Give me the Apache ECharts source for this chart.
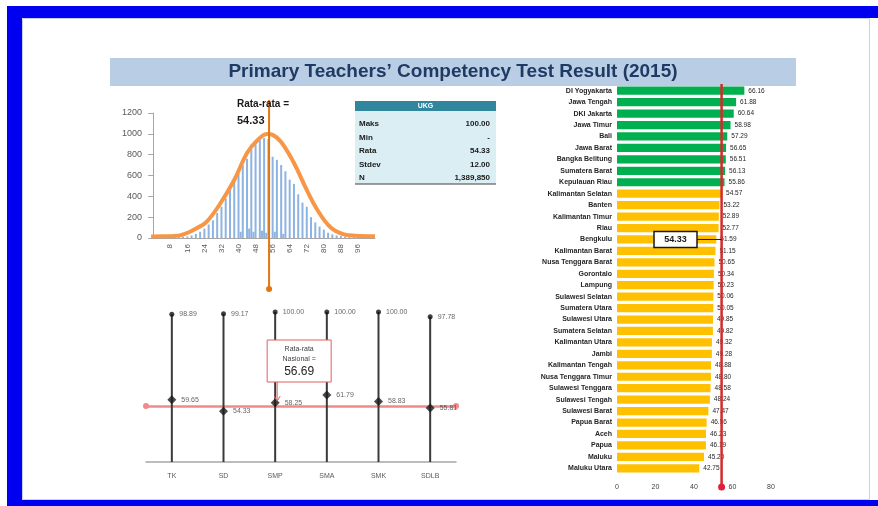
<!DOCTYPE html>
<html>
<head>
<meta charset="utf-8">
<script src="https://cdn.jsdelivr.net/npm/echarts@6/dist/echarts.min.js"></script>
<style>
  html, body { margin: 0; padding: 0; background: #fff; }
  #chart { width: 878px; height: 506px; }
</style>
</head>
<body>
<div id="chart"></div>
<script>
// histogram of UKG scores (1-point bins) and the fitted curve
const scoreBins = [0,2,4,6,8,10,12,14,16,18,20,22,24,26,28,30,32,34,36,38,40,41,42,44,45,46,47,48,50,51,52,53,54,56,57,58,60,61,62,64,66,68,70,72,74,76,78,80,82,84,86,88,90,92,94,96,98,100];
const scoreCounts = [10,10,10,12,12,12,14,14,15,25,40,60,90,130,170,240,300,380,460,540,620,60,700,760,90,850,60,900,940,70,960,50,950,780,60,750,700,40,640,560,520,420,340,300,200,150,110,80,50,35,25,20,15,12,10,10,10,10];
const curveX = [-1,5,10,13,17,21,25,31,38,44,49,53.5,56,60,66,72,77,83,89,95,104];
const curveY = [15,16,20,28,58,100,154,317,557,816,941,998,990,922,720,461,269,106,38,22,18];
const histTicks = [8,16,24,32,40,48,56,64,72,80,88,96];
const meanScore = 54.33;

// summary table
const tableRows = ['Maks', 'Min', 'Rata', 'Stdev', 'N'];
const tableVals = ['100.00', '-', '54.33', '12.00', '1,389,850'];

// by school level
const levels = ['TK', 'SD', 'SMP', 'SMA', 'SMK', 'SDLB'];
const levelMax = [98.89, 99.17, 100.00, 100.00, 100.00, 97.78];
const levelAvg = [59.65, 54.33, 58.25, 61.79, 58.83, 55.81];
const nationalAvg = 56.69;

// by province
const provinces = ['DI Yogyakarta','Jawa Tengah','DKI Jakarta','Jawa Timur','Bali','Jawa Barat','Bangka Belitung','Sumatera Barat','Kepulauan Riau','Kalimantan Selatan','Banten','Kalimantan Timur','Riau','Bengkulu','Kalimantan Barat','Nusa Tenggara Barat','Gorontalo','Lampung','Sulawesi Selatan','Sumatera Utara','Sulawesi Utara','Sumatera Selatan','Kalimantan Utara','Jambi','Kalimantan Tengah','Nusa Tenggara Timur','Sulawesi Tenggara','Sulawesi Tengah','Sulawesi Barat','Papua Barat','Aceh','Papua','Maluku','Maluku Utara'];
const provScores = [66.16,61.88,60.64,58.98,57.29,56.65,56.51,56.13,55.86,54.57,53.22,52.89,52.77,51.59,51.15,50.65,50.34,50.23,50.06,50.05,49.85,49.82,49.32,49.28,48.88,48.80,48.58,48.24,47.47,46.56,46.23,46.19,45.20,42.75];
const greenCount = 9;
const sdAvg = 54.33;

const FONT = '"Liberation Sans", Arial, sans-serif';
const chart = echarts.init(document.getElementById('chart'));

const option = {
  animation: false,
  backgroundColor: '#fff',
  textStyle: { fontFamily: FONT },
  grid: [
    { left: 150, top: 113, width: 225, height: 125 },
    { left: 146, top: 301, width: 310, height: 161 },
    { left: 617, top: 85, width: 154, height: 389 }
  ],
  xAxis: [
    {
      type: 'value', gridIndex: 0, min: -1.5, max: 104,
      axisLine: { lineStyle: { color: '#a6a6a6' } },
      axisTick: { show: false },
      splitLine: { show: false },
      axisLabel: { customValues: histTicks, rotate: 90, fontSize: 8, color: '#595959', margin: 6 }
    },
    {
      type: 'category', gridIndex: 1, data: levels,
      axisLine: { lineStyle: { color: '#a6a6a6', width: 1.5 } },
      axisTick: { lineStyle: { color: '#a6a6a6' } },
      axisLabel: { fontSize: 7, color: '#595959', margin: 11 }
    },
    {
      type: 'value', gridIndex: 2, min: 0, max: 80, interval: 20,
      axisLine: { show: false }, axisTick: { show: false }, splitLine: { show: false },
      axisLabel: { fontSize: 7, color: '#404040', margin: 10 }
    }
  ],
  yAxis: [
    {
      type: 'value', gridIndex: 0, min: 0, max: 1200, interval: 200,
      axisLine: { show: true, lineStyle: { color: '#a6a6a6' } },
      axisTick: { show: true, lineStyle: { color: '#a6a6a6' } },
      splitLine: { show: false },
      axisLabel: { fontSize: 9, color: '#595959', margin: 8, formatter: v => String(v) }
    },
    { type: 'value', gridIndex: 1, min: 31, max: 105, show: false },
    {
      type: 'category', gridIndex: 2, data: provinces, inverse: true,
      axisLine: { show: false }, axisTick: { show: false },
      axisLabel: { fontSize: 7, fontWeight: 'bold', color: '#262626', margin: 5 }
    }
  ],
  series: [
    {
      type: 'bar', xAxisIndex: 0, yAxisIndex: 0, barWidth: 2,
      data: scoreBins.map((s, i) => [s, scoreCounts[i]]),
      itemStyle: { color: '#8db3e2' }
    },
    {
      type: 'line', xAxisIndex: 0, yAxisIndex: 0, smooth: 0.4, showSymbol: false,
      data: curveX.map((x, i) => [x, curveY[i]]),
      lineStyle: { color: '#f79646', width: 4 }, z: 3
    },
    {
      type: 'bar', xAxisIndex: 1, yAxisIndex: 1, barWidth: 2,
      data: levelMax, itemStyle: { color: '#3a3a3a' }
    },
    {
      type: 'scatter', xAxisIndex: 1, yAxisIndex: 1, symbol: 'circle', symbolSize: 5,
      data: levelMax, itemStyle: { color: '#111' }, z: 4,
      label: { show: true, position: 'right', distance: 5, fontSize: 7, color: '#404040',
        formatter: p => p.value.toFixed(2) }
    },
    {
      type: 'scatter', xAxisIndex: 1, yAxisIndex: 1, symbol: 'diamond', symbolSize: 9,
      data: levelAvg, itemStyle: { color: '#1a1a1a' }, z: 4,
      label: { show: true, position: 'right', distance: 5, fontSize: 7, color: '#404040',
        formatter: p => p.value.toFixed(2) },
      markLine: {
        silent: true, symbol: ['circle', 'circle'], symbolSize: 6, z: 1,
        label: { show: false },
        lineStyle: { color: '#f08a8a', width: 2.5, type: 'solid' },
        itemStyle: { color: '#e02b2b' },
        data: [{ yAxis: nationalAvg }]
      }
    },
    {
      type: 'bar', xAxisIndex: 2, yAxisIndex: 2, barCategoryGap: '28%',
      data: provScores.map((v, i) => ({
        value: v,
        itemStyle: { color: i < greenCount ? '#00b050' : '#ffc000' }
      })),
      label: { show: true, position: 'right', distance: 4, fontSize: 6.5, color: '#262626',
        formatter: p => p.value.toFixed(2) }
    }
  ]
};
chart.setOption(option);

// decorations anchored to the axes
const meanX = chart.convertToPixel({ xAxisIndex: 0 }, meanScore);
const sdX = chart.convertToPixel({ xAxisIndex: 2 }, sdAvg);
const bengkuluY = chart.convertToPixel({ yAxisIndex: 2 }, 'Bengkulu');
const smpX = chart.convertToPixel({ xAxisIndex: 1 }, 'SMP');
const natY = chart.convertToPixel({ yAxisIndex: 1 }, nationalAvg);

const g = [];
// frame
g.push({ type: 'rect', z: -10, shape: { x: 7, y: 6, width: 871, height: 12 }, style: { fill: '#0000f0' } });
g.push({ type: 'rect', z: -10, shape: { x: 7, y: 6, width: 15, height: 500 }, style: { fill: '#0000f0' } });
g.push({ type: 'rect', z: -10, shape: { x: 7, y: 500, width: 871, height: 6 }, style: { fill: '#0000f0' } });
g.push({ type: 'rect', z: -9, shape: { x: 22.5, y: 18.5, width: 847, height: 481 }, style: { fill: 'none', stroke: '#c9cef2', lineWidth: 1 } });
// title band
g.push({ type: 'rect', z: -5, shape: { x: 110, y: 58, width: 686, height: 28 }, style: { fill: '#b9cde5' } });
g.push({ type: 'text', z: 5, x: 453, y: 72, style: {
  text: 'Primary Teachers\u2019 Competency Test Result (2015)', fill: '#1f3b63',
  font: 'bold 19px ' + FONT, align: 'center', verticalAlign: 'middle' } });

// histogram mean line
g.push({ type: 'line', z: 10, shape: { x1: meanX, y1: 100, x2: meanX, y2: 289 }, style: { stroke: '#e4750f', lineWidth: 2 } });
g.push({ type: 'circle', z: 10, shape: { cx: meanX, cy: 289, r: 3 }, style: { fill: '#e4750f' } });
g.push({ type: 'text', z: 10, x: 237, y: 99, style: { text: 'Rata-rata =', fill: '#1a1a1a', font: 'bold 10px ' + FONT } });
g.push({ type: 'text', z: 10, x: 237, y: 115, style: { text: '54.33', fill: '#1a1a1a', font: 'bold 11px ' + FONT } });

// summary table
const tX = 355, tW = 141, tTop = 101;
g.push({ type: 'rect', z: 5, shape: { x: tX, y: tTop, width: tW, height: 10 }, style: { fill: '#31859c' } });
g.push({ type: 'rect', z: 5, shape: { x: tX, y: tTop + 10, width: tW, height: 73 }, style: { fill: '#dbeef4' } });
g.push({ type: 'line', z: 6, shape: { x1: tX, y1: tTop + 83, x2: tX + tW, y2: tTop + 83 }, style: { stroke: '#404040', lineWidth: 1 } });
g.push({ type: 'text', z: 6, x: tX + tW / 2, y: tTop + 5, style: { text: 'UKG', fill: '#fff', font: 'bold 7px ' + FONT, align: 'center', verticalAlign: 'middle' } });
tableRows.forEach((r, i) => {
  const y = tTop + 23 + i * 13.5;
  g.push({ type: 'text', z: 6, x: tX + 4, y: y, style: { text: r, fill: '#1a1a1a', font: 'bold 8px ' + FONT, verticalAlign: 'middle' } });
  g.push({ type: 'text', z: 6, x: tX + tW - 6, y: y, style: { text: tableVals[i], fill: '#1a1a1a', font: 'bold 8px ' + FONT, align: 'right', verticalAlign: 'middle' } });
});

// national average callout
const bx = smpX - 8, by = 340;
g.push({ type: 'rect', z: 10, shape: { x: bx, y: by, width: 64, height: 42 }, style: { fill: '#fff', stroke: '#e06060', lineWidth: 1 } });
g.push({ type: 'text', z: 11, x: bx + 32, y: by + 9, style: { text: 'Rata-rata', fill: '#404040', font: '7px ' + FONT, align: 'center', verticalAlign: 'middle' } });
g.push({ type: 'text', z: 11, x: bx + 32, y: by + 19, style: { text: 'Nasional =', fill: '#404040', font: '7px ' + FONT, align: 'center', verticalAlign: 'middle' } });
g.push({ type: 'text', z: 11, x: bx + 32, y: by + 32, style: { text: '56.69', fill: '#262626', font: '12px ' + FONT, align: 'center', verticalAlign: 'middle' } });
g.push({ type: 'line', z: 11, shape: { x1: smpX + 2, y1: by + 42, x2: smpX + 2, y2: natY - 6 }, style: { stroke: '#e06060', lineWidth: 1 } });
g.push({ type: 'polyline', z: 11, shape: { points: [[smpX - 1, natY - 10], [smpX + 2, natY - 5], [smpX + 5, natY - 10]] }, style: { stroke: '#e06060', fill: 'none', lineWidth: 1 } });

// province average line and callout
g.push({ type: 'line', z: 10, shape: { x1: sdX, y1: 84, x2: sdX, y2: 487 }, style: { stroke: '#d42a2a', lineWidth: 2.5 } });
g.push({ type: 'circle', z: 10, shape: { cx: sdX, cy: 487, r: 3.5 }, style: { fill: '#e0203a' } });
g.push({ type: 'rect', z: 10, shape: { x: 654, y: bengkuluY - 8, width: 43, height: 16 }, style: { fill: '#fff', stroke: '#1a1a1a', lineWidth: 1.5 } });
g.push({ type: 'text', z: 11, x: 675.5, y: bengkuluY, style: { text: '54.33', fill: '#1a1a1a', font: 'bold 9px ' + FONT, align: 'center', verticalAlign: 'middle' } });
g.push({ type: 'line', z: 10, shape: { x1: 697, y1: bengkuluY, x2: sdX, y2: bengkuluY }, style: { stroke: '#1a1a1a', lineWidth: 1 } });

chart.setOption({ graphic: g });
</script>
</body>
</html>
